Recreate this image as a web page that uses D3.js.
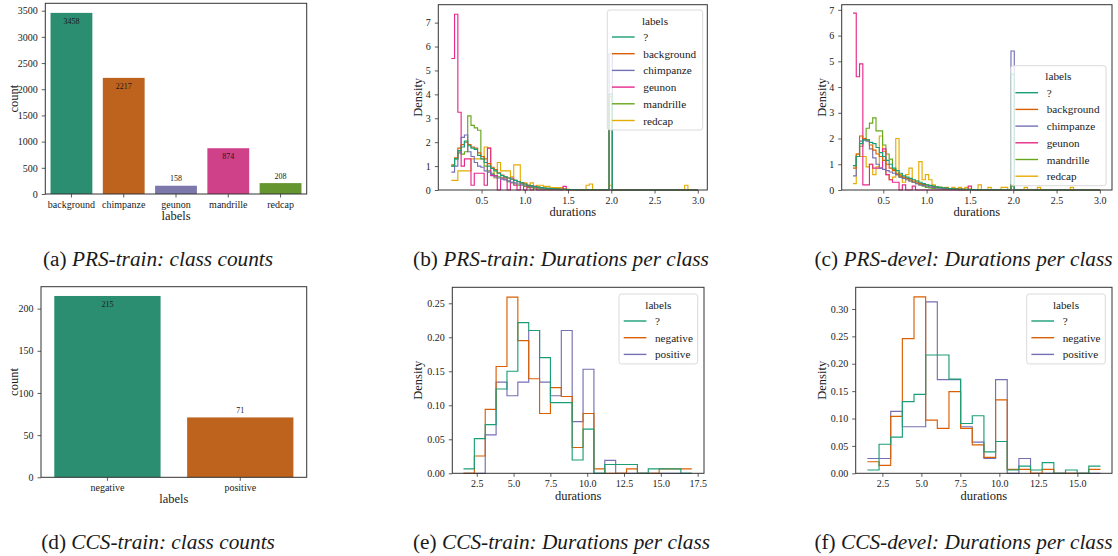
<!DOCTYPE html>
<html><head><meta charset="utf-8">
<script src="https://cdn.jsdelivr.net/npm/d3@7"></script>
<style>
body{margin:0;background:#fff}
svg{display:block;font-family:"Liberation Serif",serif}
text{font-family:"Liberation Serif",serif;fill:#1a1a1a}
</style>
</head><body>
<svg id="fig" width="1118" height="556"></svg>
<script>
// ---------------- DATA ----------------
const prsClasses = ["background","chimpanze","geunon","mandrille","redcap"];
const prsCounts  = [3458, 2217, 158, 874, 208];
const prsCountTicks = [0,500,1000,1500,2000,2500,3000,3500];

const ccsClasses = ["negative","positive"];
const ccsCounts  = [215, 71];
const ccsCountTicks = [0,50,100,150,200];

const prsLabels = ["?","background","chimpanze","geunon","mandrille","redcap"];
const ccsLabels = ["?","negative","positive"];

// PRS duration histograms: 75 common bins starting at 0.15 s, width 0.038 s
const prsBinStart = 0.15, prsBinWidth = 0.038;
const prsDurTicks = [0.5,1.0,1.5,2.0,2.5,3.0];
const prsTrainDensTicks = [0,1,2,3,4,5,6,7];
const prsDevelDensTicks = [0,1,2,3,4,5,6,7];

const prsTrainQ = [1.0,1.3,1.65,1.8,2.05,1.85,1.75,1.7,1.45,1.3, 1.15,1.0,0.9,0.8,0.7,0.6,0.55,0.5,0.45,0.4,
  0.35,0.3,0.25,0.2,0.17,0.14,0.12,0.1,0.08,0.07, 0.06,0.05,0.04,0.03,0.03,0.02,0.02,0.02,0.01,0.01,
  0.01,0.01,0.01,0.01,0.01,0.01,0.01,0.01,4.0,0, 0,0,0,0,0,0,0,0,0,0, 0,0,0,0,0,0,0,0,0,0, 0,0,0,0,0];
const prsTrainBackground = [1.05,1.35,1.75,1.9,2.0,1.9,1.8,1.75,1.55,1.4, 1.3,1.1,0.95,0.85,0.72,0.62,0.55,0.5,0.45,0.4,
  0.35,0.3,0.25,0.2,0.18,0.15,0.12,0.1,0.08,0.07, 0.06,0.05,0.05,0.04,0.03,0.03,0.02,0.02,0.02,0.01,
  0.01,0.01,0.01,0.01,0.01,0.01,0.01,0.01,3.9,0, 0,0,0,0,0,0,0,0,0,0, 0,0,0,0,0,0,0,0,0,0, 0,0,0,0,0];
const prsTrainChimpanze = [0.75,1.0,1.55,2.2,2.3,1.6,1.4,1.15,1.0,0.95, 0.8,0.75,0.65,0.55,0.5,0.45,0.42,0.38,0.33,0.3,
  0.25,0.22,0.2,0.17,0.14,0.12,0.1,0.08,0.07,0.06, 0.05,0.04,0.04,0.03,0.03,0.02,0.02,0.02,0.01,0.01,
  0.01,0.01,0.01,0.01,0.01,0.01,0.01,0.01,5.7,0, 0,0,0,0,0,0,0,0,0,0, 0,0,0,0,0,0,0,0,0,0, 0,0,0,0,0];
const prsTrainGeunon = [5.5,7.35,3.25,1.0,1.3,1.3,0.2,0.7,0.7,0.7, 0.2,1.75,0.6,0.6,0,0.5,0.5,0,0.5,0.2,
  0,0.3,0,0.15,0,0.15,0,0,0,0, 0,0,0,0,0.15,0,0,0,0,0,
  0,0,0,0,0,0,0,0,0,0, 0,0,0,0,0,0,0,0,0,0, 0,0,0,0,0,0,0,0,0,0, 0,0,0,0,0];
const prsTrainMandrille = [1.0,1.3,1.6,1.5,1.6,3.1,2.7,2.6,2.5,1.4, 1.0,0.8,0.7,0.6,0.55,0.5,0.45,0.35,0.3,0.25,
  0.2,0.2,0.15,0.1,0.1,0.05,0.05,0.05,0.03,0.03, 0.02,0.02,0.02,0.01,0.01,0,0,0,0,0,
  0,0,0,0,0,0,0,0,4.0,0, 0,0,0,0,0,0,0,0,0,0, 0,0,0,0,0,0,0,0,0,0, 0,0,0,0,0];
const prsTrainRedcap = [0.4,0.4,0.8,0.8,0.8,0.8,1.3,1.3,1.3,1.3, 1.8,1.75,0.9,0.5,1.15,0.8,0.8,0.8,0.55,1.05,
  1.05,0.3,0.3,0.2,0.3,0.1,0.2,0.2,0.15,0.15, 0.1,0.1,0.1,0.1,0.05,0,0,0,0,0,
  0,0.2,0.25,0,0,0,0,0,0.2,0, 0,0,0,0,0,0,0,0,0,0, 0,0,0,0,0,0,0,0,0,0, 0,0.2,0,0,0];

const prsDevelQ = [0.95,1.3,1.8,1.95,1.95,1.85,1.8,1.65,1.45,1.3, 1.15,1.0,0.85,0.75,0.65,0.55,0.5,0.45,0.4,0.35,
  0.3,0.25,0.2,0.18,0.15,0.12,0.1,0.08,0.07,0.06, 0.05,0.04,0.04,0.03,0.03,0.02,0.02,0.02,0.01,0.01,
  0.01,0.01,0.01,0.01,0.01,0.01,0.01,0.01,4.5,0, 0,0,0,0,0,0,0,0,0,0, 0,0,0,0,0,0,0,0,0,0, 0,0,0,0,0];
const prsDevelBackground = [0.85,1.4,2.1,2.0,1.95,1.75,1.55,1.4,1.3,1.15, 1.0,0.85,0.75,0.65,0.55,0.5,0.45,0.4,0.35,0.3,
  0.25,0.22,0.2,0.17,0.14,0.12,0.1,0.08,0.07,0.06, 0.05,0.05,0.04,0.03,0.03,0.02,0.02,0.02,0.01,0.01,
  0.01,0.01,0.01,0.01,0.01,0.01,0.01,0.01,0.2,0, 0,0,0,0,0,0,0,0,0,0, 0,0,0,0,0,0,0,0,0,0, 0,0,0,0,0];
const prsDevelChimpanze = [0.55,1.3,1.9,1.95,1.9,1.6,1.25,1.0,0.85,0.8, 0.75,0.7,0.65,0.6,0.5,0.45,0.4,0.35,0.3,0.25,
  0.2,0.18,0.15,0.12,0.1,0.08,0.07,0.06,0.05,0.04, 0.04,0.03,0.03,0.02,0.02,0.02,0.01,0.01,0.01,0.01,
  0.01,0.01,0.01,0.01,0.01,0.01,0.01,0.01,5.4,0, 0,0,0,0,0,0,0,0,0,0, 0,0,0,0,0,0,0,0,0,0, 0,0,0,0,0];
const prsDevelGeunon = [6.87,4.4,4.9,0.2,0.2,1.0,0.85,0.85,0.85,1.6, 0.6,0.4,0.3,0.3,0,0.2,0,0,0.15,0,
  0,0,0,0,0,0,0,0,0,0, 0,0,0,0,0,0.15,0,0,0,0,
  0,0,0,0,0,0,0,0,0,0, 0,0,0,0,0,0,0,0,0,0, 0,0,0,0,0,0,0,0,0,0, 0,0,0,0,0];
const prsDevelMandrille = [0.95,1.3,1.7,2.0,2.4,2.6,2.8,2.3,2.3,1.75, 1.4,1.2,0.8,0.6,0.5,0.45,0.45,0.35,0.3,0.25,
  0.2,0.15,0.1,0.08,0.06,0.05,0.04,0.03,0.02,0.02, 0.01,0.01,0,0,0,0,0,0,0,0,
  0,0,0,0,0,0,0,0,0.15,0, 0,0,0,0,0,0,0,0,0,0, 0,0,0,0,0,0,0,0,0,0, 0,0,0,0,0];
const prsDevelRedcap = [0.25,1.4,1.3,1.3,0.9,1.0,0.6,0.9,2.1,1.5, 0.6,0.4,0.5,2.0,0.6,0.3,0.6,0.85,0.3,0.35,
  1.1,0.4,0.6,0.4,0.2,0.1,0.1,0.05,0.1,0.05, 0.1,0.05,0.1,0.05,0.1,0.05,0,0,0.2,0,
  0,0.1,0,0,0,0.1,0.1,0,0.2,0, 0,0,0.1,0,0,0,0.1,0,0,0, 0,0,0,0,0,0,0.1,0,0,0, 0,0,0,0,0];

// CCS duration histograms
const ccsTrainBinStart = 1.6, ccsTrainBinWidth = 0.738;
const ccsTrainDurTicks = [2.5,5.0,7.5,10.0,12.5,15.0,17.5];
const ccsTrainDensTicks = [0.00,0.05,0.10,0.15,0.20,0.25];
const ccsTrainQ        = [0.0065,0.051,0.0716,0.124,0.150,0.2216,0.21,0.17,0.104,0.104,0.0196,0.065,0,0.013,0.013,0.013,0,0.0065,0.0065,0.0065,0];
const ccsTrainNegative = [0,0.0255,0.094,0.157,0.259,0.195,0.139,0.088,0.126,0.113,0.038,0.088,0.0064,0,0,0.0064,0,0,0.0064,0.0064,0.0064];
const ccsTrainPositive = [0,0,0.0564,0.134,0.114,0.134,0.21,0.134,0.114,0.21,0.076,0.153,0,0.019,0,0,0,0,0,0,0];

const ccsDevelBinStart = 1.54, ccsDevelBinWidth = 0.747;
const ccsDevelDurTicks = [2.5,5.0,7.5,10.0,12.5,15.0];
const ccsDevelDensTicks = [0.00,0.05,0.10,0.15,0.20,0.25,0.30];
const ccsDevelQ        = [0.006,0.053,0.066,0.131,0.144,0.216,0.216,0.172,0.091,0.105,0.039,0.058,0.006,0.013,0.006,0.0195,0,0.006,0,0.013];
const ccsDevelNegative = [0.021,0.0146,0.104,0.246,0.322,0.097,0.082,0.149,0.082,0.052,0.029,0.134,0.0073,0.0073,0,0.0073,0,0,0,0.0073];
const ccsDevelPositive = [0.027,0.027,0.113,0.085,0.085,0.313,0.171,0.171,0.085,0.057,0.027,0.171,0,0.027,0,0,0,0,0,0];

// ---------------- STYLE ----------------
const DARK2 = ["#1b9e77","#d95f02","#7570b3","#e7298a","#66a61e","#e6ab02"];
function desat(c, f){ const h = d3.hsl(c); h.s *= f; return h.formatHex(); }
const svg = d3.select("#fig");
const SERIF = '"Liberation Serif", serif';
const SPINE = "#333";
const TICKFS = 10, LABELFS = 12.5, LEGFS = 11.2, CAPFS = 21.3;

function frame(g, L, R, T, B){
  g.append("rect").attr("x",L).attr("y",T).attr("width",R-L).attr("height",B-T)
   .attr("fill","none").attr("stroke",SPINE).attr("stroke-width",1);
}
function styleAxis(ax){
  ax.attr("font-family",null).attr("font-size",null);
  ax.select(".domain").remove();
  ax.selectAll("line").attr("stroke",SPINE).attr("stroke-width",0.8);
  ax.selectAll("text").attr("font-size",TICKFS).attr("fill","#1a1a1a");
}
function axesLabels(g, o){
  g.append("text").attr("x",(o.L+o.R)/2).attr("y",o.B+o.xlabDy).attr("text-anchor","middle")
   .attr("font-size",LABELFS).text(o.xlabel);
  g.append("text").attr("transform",`translate(${o.ylabX},${(o.T+o.B)/2}) rotate(-90)`)
   .attr("text-anchor","middle").attr("dominant-baseline","central")
   .attr("font-size",LABELFS).text(o.ylabel);
}
function caption(cx, y, tag, title){
  const t = svg.append("text").attr("x",cx).attr("y",y).attr("text-anchor","middle").attr("font-size",CAPFS).attr("fill","#000");
  t.append("tspan").text(tag + " ");
  t.append("tspan").attr("font-style","italic").text(title);
}

function barPanel(o){
  const g = svg.append("g");
  const x = d3.scaleBand().domain(o.cats).range([o.L,o.R]).paddingInner(0.2).paddingOuter(0.1);
  const y = d3.scaleLinear().domain([0,o.ymax]).range([o.B,o.T]);
  g.selectAll("rect.bar").data(o.cats).join("rect").attr("class","bar")
    .attr("x",d=>x(d)).attr("width",x.bandwidth())
    .attr("y",(d,i)=>y(o.vals[i])).attr("height",(d,i)=>y(0)-y(o.vals[i]))
    .attr("fill",(d,i)=>desat(DARK2[i],0.75));
  g.selectAll("text.val").data(o.cats).join("text").attr("class","val")
    .attr("x",d=>x(d)+x.bandwidth()/2)
    .attr("y",(d,i)=> o.inside[i] ? y(o.vals[i])+11 : y(o.vals[i])-4.5)
    .attr("text-anchor","middle").attr("font-size",8).attr("fill","#000")
    .text((d,i)=>o.vals[i]);
  const ax = g.append("g").attr("transform",`translate(0,${o.B})`)
    .call(d3.axisBottom(x).tickSize(3.5).tickPadding(3.4).tickSizeOuter(0));
  styleAxis(ax);
  const ay = g.append("g").attr("transform",`translate(${o.L},0)`)
    .call(d3.axisLeft(y).tickValues(o.yticks).tickSize(3.5).tickPadding(4).tickSizeOuter(0).tickFormat(d3.format("d")));
  styleAxis(ay);
  frame(g,o.L,o.R,o.T,o.B);
  axesLabels(g,o);
}

function histPanel(o){
  const g = svg.append("g");
  const x = d3.scaleLinear().domain(o.xdom).range([o.L,o.R]);
  const y = d3.scaleLinear().domain([0,o.ymax]).range([o.B,o.T]);
  const line = d3.line().x(d=>x(d[0])).y(d=>y(d[1])).curve(d3.curveStepAfter);
  const idx = o.series.map((s,i)=>i).reverse();
  idx.forEach(i=>{
    const vals = o.series[i];
    const pts = vals.map((v,k)=>[o.start + k*o.width, v]);
    pts.push([o.start + vals.length*o.width, vals[vals.length-1]]);
    g.append("path").attr("d",line(pts)).attr("fill","none")
      .attr("stroke",DARK2[i]).attr("stroke-width",1.15).attr("stroke-linejoin","miter");
  });
  const ax = g.append("g").attr("transform",`translate(0,${o.B})`)
    .call(d3.axisBottom(x).tickValues(o.xticks).tickSize(3.5).tickPadding(3.4).tickFormat(d3.format(".1f")));
  styleAxis(ax);
  const ay = g.append("g").attr("transform",`translate(${o.L},0)`)
    .call(d3.axisLeft(y).tickValues(o.yticks).tickSize(3.5).tickPadding(4).tickFormat(d3.format(o.yfmt)));
  styleAxis(ay);
  frame(g,o.L,o.R,o.T,o.B);
  axesLabels(g,o);
  // legend
  const lg = g.append("g");
  const n = o.labels.length, rowH = 16.7;
  const h = 27 + (n-1)*rowH + 9.5;
  lg.append("rect").attr("x",o.legX).attr("y",o.legY).attr("width",o.legW).attr("height",h)
    .attr("rx",2.5).attr("fill","#fff").attr("fill-opacity",0.8).attr("stroke","#d6d6d6").attr("stroke-width",0.9);
  lg.append("text").attr("x",o.legX+o.legW/2).attr("y",o.legY+10.5).attr("dominant-baseline","central")
    .attr("text-anchor","middle").attr("font-size",LEGFS).text("labels");
  o.labels.forEach((lab,i)=>{
    const yy = o.legY + 27 + i*rowH;
    lg.append("line").attr("x1",o.legX+4.7).attr("x2",o.legX+27.4).attr("y1",yy).attr("y2",yy)
      .attr("stroke",DARK2[i]).attr("stroke-width",1.4);
    lg.append("text").attr("x",o.legX+36).attr("y",yy).attr("dominant-baseline","central")
      .attr("font-size",LEGFS).text(lab);
  });
}

// ---------------- PANELS ----------------
barPanel({cats:prsClasses, vals:prsCounts, inside:[true,true,false,true,false], yticks:prsCountTicks, ymax:3641,
  L:45.3, R:306.7, T:3.3, B:194, xlabel:"labels", ylabel:"count", xlabDy:25.5, ylabX:14});
histPanel({series:[prsTrainQ,prsTrainBackground,prsTrainChimpanze,prsTrainGeunon,prsTrainMandrille,prsTrainRedcap],
  labels:prsLabels, start:prsBinStart, width:prsBinWidth, xdom:[0.0,3.11], ymax:7.75,
  xticks:prsDurTicks, yticks:prsTrainDensTicks, yfmt:"d",
  L:438.3, R:707.3, T:4.7, B:190, xlabel:"durations", ylabel:"Density", xlabDy:25.5, ylabX:418.3,
  legX:607.3, legY:10, legW:95.4});
histPanel({series:[prsDevelQ,prsDevelBackground,prsDevelChimpanze,prsDevelGeunon,prsDevelMandrille,prsDevelRedcap],
  labels:prsLabels, start:prsBinStart, width:prsBinWidth, xdom:[0.02,3.14], ymax:7.2,
  xticks:prsDurTicks, yticks:prsDevelDensTicks, yfmt:"d",
  L:841.7, R:1112, T:4.7, B:190, xlabel:"durations", ylabel:"Density", xlabDy:25.5, ylabX:822,
  legX:1010.7, legY:65.7, legW:95.4});
barPanel({cats:ccsClasses, vals:ccsCounts, inside:[true,false], yticks:ccsCountTicks, ymax:226,
  L:41, R:306.7, T:286.7, B:477.3, xlabel:"labels", ylabel:"count", xlabDy:25.5, ylabX:14});
histPanel({series:[ccsTrainQ,ccsTrainNegative,ccsTrainPositive], labels:ccsLabels,
  start:ccsTrainBinStart, width:ccsTrainBinWidth, xdom:[0.84,17.93], ymax:0.2735,
  xticks:ccsTrainDurTicks, yticks:ccsTrainDensTicks, yfmt:".2f",
  L:452.3, R:704, T:287.3, B:473.3, xlabel:"durations", ylabel:"Density", xlabDy:27, ylabX:418.3,
  legX:619, legY:294, legW:78.7});
histPanel({series:[ccsDevelQ,ccsDevelNegative,ccsDevelPositive], labels:ccsLabels,
  start:ccsDevelBinStart, width:ccsDevelBinWidth, xdom:[0.79,17.22], ymax:0.3396,
  xticks:ccsDevelDurTicks, yticks:ccsDevelDensTicks, yfmt:".2f",
  L:855.7, R:1112, T:287.3, B:473.3, xlabel:"durations", ylabel:"Density", xlabDy:27, ylabX:822.3,
  legX:1026.7, legY:294, legW:78.6});

caption(158, 265.5, "(a)", "PRS-train: class counts");
caption(561, 265.5, "(b)", "PRS-train: Durations per class");
caption(963.5, 265.5, "(c)", "PRS-devel: Durations per class");
caption(158, 548.5, "(d)", "CCS-train: class counts");
caption(561.5, 548.5, "(e)", "CCS-train: Durations per class");
caption(963.5, 548.5, "(f)", "CCS-devel: Durations per class");

svg.selectAll("text").style("font-family", SERIF);
</script>
</body></html>
